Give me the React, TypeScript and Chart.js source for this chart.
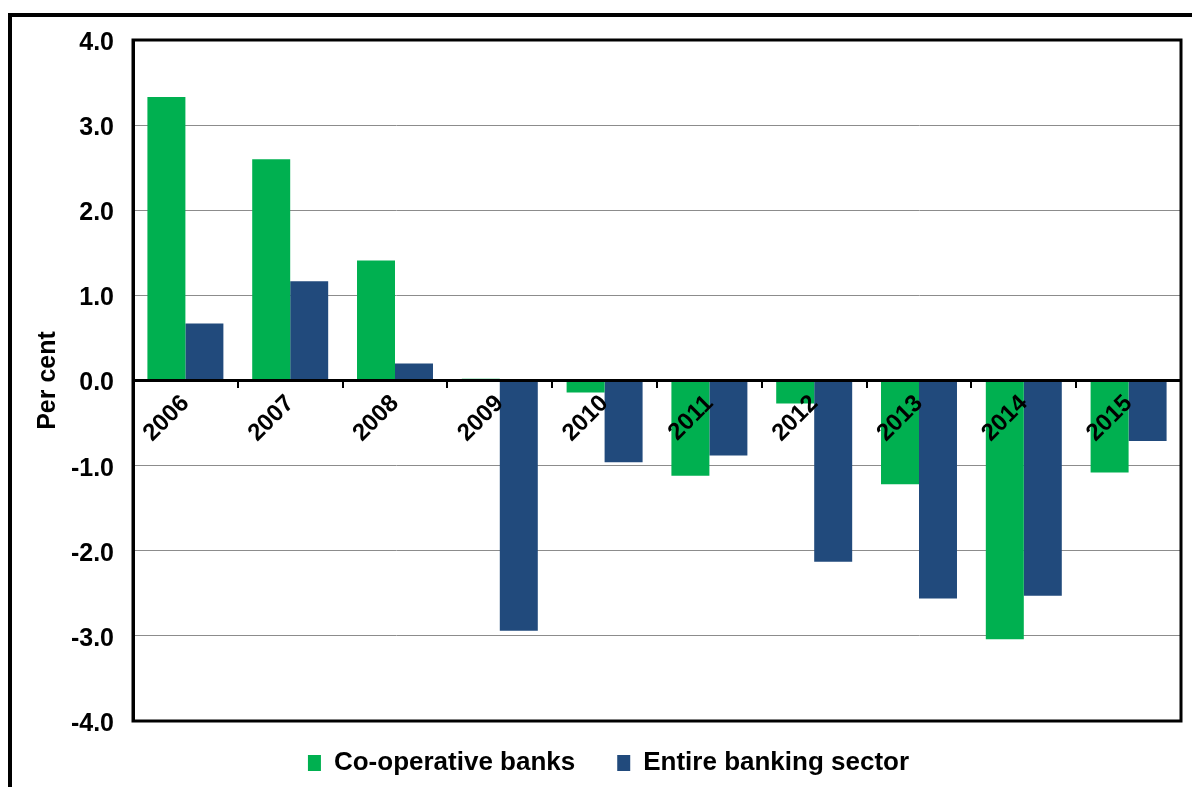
import React, { useEffect, useRef } from "react";
import { Chart, registerables } from "chart.js";

Chart.register(...registerables);

const categories = ["2006", "2007", "2008", "2009", "2010", "2011", "2012", "2013", "2014", "2015"];
const coopBanks = [3.33, 2.6, 1.41, 0.02, -0.14, -1.12, -0.27, -1.22, -3.04, -1.08];
const entireSector = [0.67, 1.165, 0.2, -2.94, -0.96, -0.88, -2.13, -2.56, -2.53, -0.71];
const seriesNames = ["Co-operative banks", "Entire banking sector"];
const yTicks = [-4, -3, -2, -1, 0, 1, 2, 3, 4];

const FONT = "Arial, 'Liberation Sans', sans-serif";

const framePlugin = {
  id: "frame",
  afterDraw(chart: any) {
    const { ctx, chartArea } = chart;
    ctx.save();
    ctx.strokeStyle = "#000";
    ctx.lineWidth = 3;
    ctx.strokeRect(chartArea.left, chartArea.top, chartArea.right - chartArea.left, chartArea.bottom - chartArea.top);
    ctx.restore();
  },
};

export default function App() {
  const ref = useRef<HTMLCanvasElement>(null);
  useEffect(() => {
    if (!ref.current) return;
    const chart = new Chart(ref.current, {
      type: "bar",
      data: {
        labels: categories,
        datasets: [
          { label: seriesNames[0], data: coopBanks, backgroundColor: "#00B050", borderWidth: 0 },
          { label: seriesNames[1], data: entireSector, backgroundColor: "#214A7C", borderWidth: 0 },
        ],
      },
      options: {
        animation: false,
        responsive: true,
        maintainAspectRatio: false,
        layout: { padding: { top: 23, right: 11, bottom: 1, left: 24 } },
        datasets: { bar: { categoryPercentage: 0.725, barPercentage: 1.0 } },
        plugins: {
          legend: {
            position: "bottom",
            labels: {
              boxWidth: 13,
              boxHeight: 16,
              padding: 29,
              color: "#000",
              font: { family: FONT, size: 26, weight: "bold" },
              generateLabels: (chart: any) => {
                const items = Chart.defaults.plugins.legend.labels.generateLabels(chart);
                if (items.length > 0) items[0].text = items[0].text + "\u2002";
                return items;
              },
            },
          },
          tooltip: { enabled: false },
        },
        scales: {
          x: {
            position: { y: 0 } as any,
            grid: {
              offset: true,
              drawOnChartArea: false,
              drawTicks: true,
              tickLength: 6,
              color: "#000",
              lineWidth: 2,
            },
            border: { display: true, color: "#000", width: 3, z: 1 },
            ticks: {
              z: 1,
              minRotation: 45,
              maxRotation: 45,
              autoSkip: false,
              color: "#000",
              padding: 3,
              font: { family: FONT, size: 24, weight: "bold" },
            },
          },
          y: {
            min: -4,
            max: 4,
            afterBuildTicks: (scale: any) => {
              scale.ticks = yTicks.map((v) => ({ value: v }));
            },
            afterFit: (scale: any) => {
              scale.width = 97;
              scale.paddingTop = 0;
              scale.paddingBottom = 0;
            },
            grid: { color: "#8c8c8c", lineWidth: 1, drawTicks: false },
            border: { display: true, color: "#000", width: 3 },
            ticks: {
              padding: 19,
              labelOffset: 3,
              color: "#000",
              font: { family: FONT, size: 25, weight: "bold" },
              callback: (v: any) => Number(v).toFixed(1),
            },
            title: {
              display: true,
              text: "Per cent",
              color: "#000",
              padding: { top: -3, bottom: 0 },
              font: { family: FONT, size: 25, weight: "bold" },
            },
          },
        },
      },
      plugins: [framePlugin],
    });
    return () => chart.destroy();
  }, []);

  return (
    <div
      style={{
        position: "absolute",
        left: 8,
        top: 13,
        width: 1184,
        height: 774,
        borderTop: "4px solid #000",
        borderLeft: "4px solid #000",
        boxSizing: "border-box",
        background: "#fff",
      }}
    >
      <div style={{ position: "absolute", left: 0, top: 0, width: 1180, height: 770 }}>
        <canvas ref={ref} />
      </div>
    </div>
  );
}
